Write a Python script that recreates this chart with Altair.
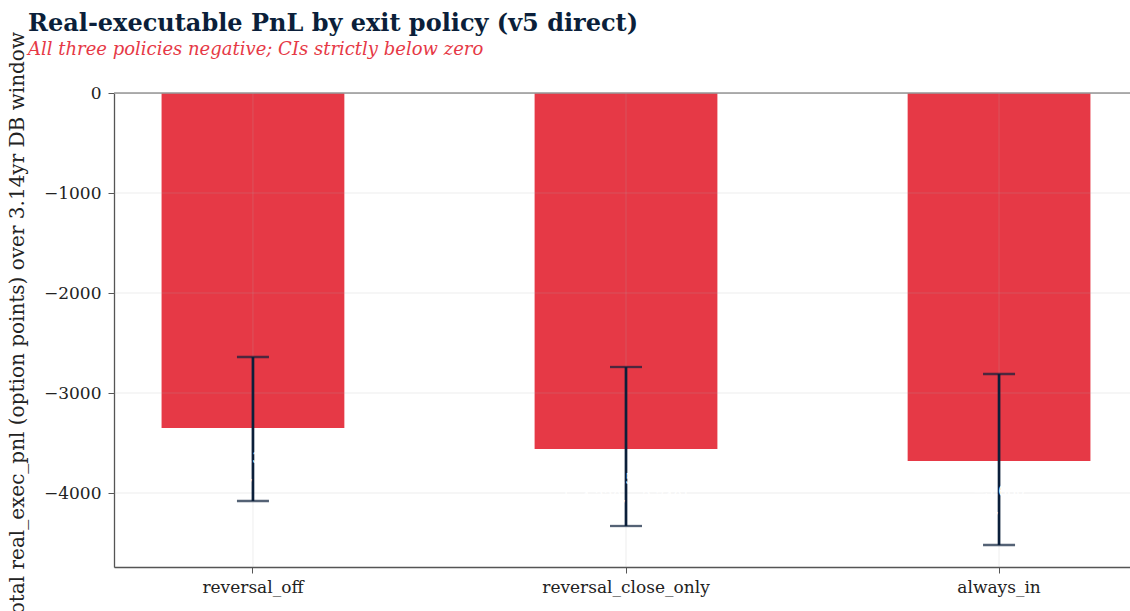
import altair as alt
import pandas as pd

policies = ["reversal_off", "reversal_close_only", "always_in"]
pnl = [-3350, -3560, -3680]
ci_low = [-4080, -4330, -4520]
ci_high = [-2640, -2740, -2810]
y_ticks = [-4000, -3000, -2000, -1000, 0]
y_title = "Total real_exec_pnl (option points) over 3.14yr DB window"
title_text = "Real-executable PnL by exit policy (v5 direct)"
subtitle_text = "All three policies negative; CIs strictly below zero"

def fmt(v):
    return f"{v:,}".replace("-", "\u2212")

df = pd.DataFrame({
    "policy": policies,
    "pnl": pnl,
    "lo": ci_low,
    "hi": ci_high,
})
df["label"] = [[fmt(p), f"[{fmt(l)}, {fmt(h)}]"] for p, l, h in zip(pnl, ci_low, ci_high)]
grid_df = pd.DataFrame({"g": y_ticks})

FONT = "DejaVu Serif"
RED = "#E63946"
NAVY = "#0B1F3A"

x_scale = alt.Scale(domain=policies, range=[0, 1024], paddingInner=0.51, paddingOuter=0.1275)
x_enc = alt.X(
    "policy:N",
    sort=policies,
    scale=x_scale,
    axis=alt.Axis(
        title=None, labelAngle=0, labelFontSize=17, labelFont=FONT, labelColor="#222222",
        labelPadding=6, tickSize=6, tickColor="#555555", domainColor="#555555", domainWidth=1.3,
        grid=False,
    ),
)
y_scale = alt.Scale(domain=[-4740, 0], nice=False, zero=False)
y_axis = alt.Axis(
    title=None,
    values=y_ticks, format="d", labelFontSize=17, labelFont=FONT, labelColor="#222222",
    labelPadding=7, tickSize=6, tickColor="#555555", domainColor="#555555", domainWidth=1.3,
    grid=False,
)

base = alt.Chart(df)

bars = base.mark_bar(color=RED).encode(
    x=x_enc,
    y=alt.Y("pnl:Q", scale=y_scale, axis=y_axis),
)

hgrid = alt.Chart(grid_df).mark_rule(color="#b0b0b0", opacity=0.22, strokeWidth=1).encode(
    y=alt.Y("g:Q", scale=y_scale)
)
vgrid = base.mark_rule(color="#b0b0b0", opacity=0.22, strokeWidth=1).encode(
    x=alt.X("policy:N", sort=policies, scale=x_scale)
)

zero = alt.Chart(pd.DataFrame({"z": [0]})).mark_rule(color="#999999", strokeWidth=1.4).encode(
    y=alt.Y("z:Q", scale=y_scale)
)

err = base.mark_rule(color=NAVY, strokeWidth=2.7).encode(
    x=alt.X("policy:N", sort=policies, scale=x_scale),
    y=alt.Y("lo:Q", scale=y_scale),
    y2="hi:Q",
)
cap_lo = base.mark_tick(color=NAVY, size=32, thickness=2.3).encode(
    x=alt.X("policy:N", sort=policies, scale=x_scale), y=alt.Y("lo:Q", scale=y_scale)
)
cap_hi = base.mark_tick(color=NAVY, size=32, thickness=2.3).encode(
    x=alt.X("policy:N", sort=policies, scale=x_scale), y=alt.Y("hi:Q", scale=y_scale)
)
labels = base.mark_text(
    color="white", font=FONT, fontSize=14, baseline="top", dy=24, lineHeight=18
).encode(
    x=alt.X("policy:N", sort=policies, scale=x_scale), y=alt.Y("pnl:Q", scale=y_scale), text="label"
)

ytitle = alt.Chart(pd.DataFrame({"t": [y_title]})).mark_text(
    angle=270, font=FONT, fontSize=20, color="#222222", align="center", baseline="middle"
).encode(
    x=alt.value(-96), y=alt.value(236), text="t:N"
)

title = alt.Chart(pd.DataFrame({"t": [title_text]})).mark_text(
    font=FONT, fontSize=24, fontWeight="bold", color=NAVY, align="left", baseline="alphabetic"
).encode(
    x=alt.value(-86), y=alt.value(-62), text="t:N"
)
subtitle = alt.Chart(pd.DataFrame({"t": [subtitle_text]})).mark_text(
    font=FONT, fontSize=18, fontStyle="italic", color=RED, align="left", baseline="alphabetic"
).encode(
    x=alt.value(-86), y=alt.value(-38), text="t:N"
)

chart = alt.layer(bars, hgrid, vgrid, zero, err, cap_lo, cap_hi, labels, ytitle, title, subtitle).properties(
    width=1016,
    height=474,
    autosize=alt.AutoSizeParams(type="none"),
    padding={"left": 114, "top": 93, "right": 0, "bottom": 44},
).configure_view(stroke=None).configure(background="white")

chart.save("out.html", embed_options={"renderer": "svg", "actions": False})
